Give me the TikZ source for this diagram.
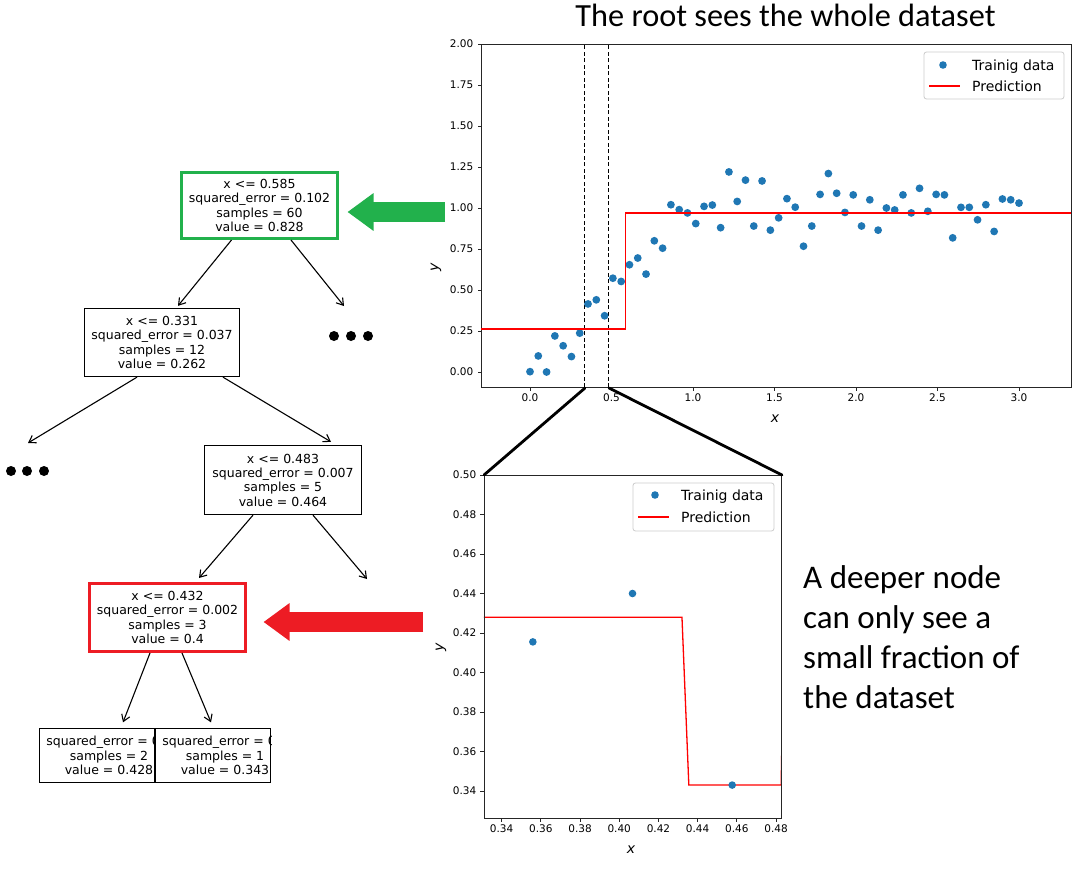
\documentclass[tikz,border=0pt]{standalone}
\usepackage{fontspec}
\setmainfont{Carlito}
\newfontfamily\dvs{DejaVu Sans}
\usetikzlibrary{arrows.meta}
\definecolor{mplblue}{HTML}{1F77B4}
\definecolor{pgreen}{HTML}{22B14C}
\definecolor{pred}{HTML}{ED1C24}
\definecolor{mplred}{HTML}{FF0000}
\tikzset{
  treebox/.style={draw=black, line width=1.3pt, inner sep=0pt, align=center,
    font=\dvs\fontsize{12.5}{14.3}\selectfont, minimum width=155pt, minimum height=68pt},
  greenbox/.style={treebox, draw=pgreen, line width=3pt, minimum width=156pt, minimum height=66pt},
  redbox/.style={treebox, draw=pred, line width=3pt, minimum width=156pt, minimum height=68pt},
  leafbox/.style={draw=black, line width=1.3pt, minimum width=115pt, minimum height=54pt, inner sep=0pt},
  leaftext/.style={inner sep=0pt, align=center, font=\dvs\fontsize{12.5}{14.3}\selectfont},
  treeedge/.style={line width=1.1pt, -{Straight Barb[length=6.5pt,width=8.5pt]}},
  bigarrow/.style={line width=20pt, -{Triangle[length=26pt,width=36pt]}},
  dotmark/.style={circle, fill=black, inner sep=0pt, minimum size=10pt},
  tickmark/.style={line width=0.8pt, black!85},
  ticklabel/.style={font=\dvs\fontsize{10.5}{12}\selectfont, inner sep=0pt},
  legtext/.style={font=\dvs\fontsize{14}{16}\selectfont, inner sep=0pt, anchor=base west},
  axlabel/.style={font=\dvs\itshape\fontsize{14}{16}\selectfont, inner sep=0pt},
  bigtext/.style={font=\fontsize{33}{40}\selectfont, inner sep=0pt, anchor=base west},
  axframe/.style={draw=black!85, line width=0.9pt},
  legbox/.style={draw=black!20, fill=white, line width=0.8pt, rounded corners=2.5pt},
  zoomline/.style={line width=2.8pt, black},
  predline/.style={mplred, line width=1.3pt},
  cutline/.style={black, line width=1.1pt, dash pattern=on 4pt off 2.5pt},
  datapt/.style={fill=mplblue}
}
\begin{document}
\begin{tikzpicture}[x=1pt,y=1pt]
\useasboundingbox[fill=white] (0,0) rectangle (1080,-870);

% ---------- titles ----------
\node[font=\fontsize{32.3}{40}\selectfont, inner sep=0pt] (title) at (785.5,-15.5) {The root sees the whole dataset};
\node[bigtext] (t1) at (803,-588) {A deeper node};
\node[bigtext] (t2) at (803,-628) {can only see a};
\node[bigtext] (t3) at (803,-668) {small fraction of};
\node[bigtext] (t4) at (803,-708) {the dataset};

% ---------- tree ----------
\node[greenbox] (root) at (259.5,-205.5) {x <= 0.585\\squared\_error = 0.102\\samples = 60\\value = 0.828};
\node[treebox] (n2) at (162,-342.5) {x <= 0.331\\squared\_error = 0.037\\samples = 12\\value = 0.262};
\node[treebox, minimum width=157pt, minimum height=69pt] (n3) at (283,-480) {x <= 0.483\\squared\_error = 0.007\\samples = 5\\value = 0.464};
\node[redbox] (n4) at (167.5,-617.5) {x <= 0.432\\squared\_error = 0.002\\samples = 3\\value = 0.4};

\node[leafbox] (leafA) at (97,-755.5) {};
\begin{scope}
  \clip (leafA.south west) rectangle (leafA.north east);
  \node[leaftext] (leafAtext) at (109,-755.5) {squared\_error = 0.0\\samples = 2\\value = 0.428};
\end{scope}
\node[leafbox] (leafB) at (213,-755.5) {};
\begin{scope}
  \clip (leafB.south west) rectangle (leafB.north east);
  \node[leaftext] (leafBtext) at (225,-755.5) {squared\_error = 0.0\\samples = 1\\value = 0.343};
\end{scope}

\coordinate (rootR) at (344,-306);
\coordinate (n2L) at (28,-443);
\coordinate (n3R) at (367,-579);
\node[dotmark] (d1) at (334,-336) {};
\node[dotmark] (d2) at (351,-336) {};
\node[dotmark] (d3) at (368,-336) {};
\node[dotmark] (e1) at (11,-471) {};
\node[dotmark] (e2) at (27,-471) {};
\node[dotmark] (e3) at (44,-471) {};

\draw[treeedge] ([xshift=-28pt]root.south) -- ([xshift=16pt,yshift=2pt]n2.north);
\draw[treeedge] ([xshift=31.5pt]root.south) -- (rootR);
\draw[treeedge] ([xshift=-25pt]n2.south) -- (n2L);
\draw[treeedge] ([xshift=61pt]n2.south) -- ([xshift=48pt,yshift=3pt]n3.north);
\draw[treeedge] ([xshift=-30pt]n3.south) -- ([xshift=31.5pt,yshift=4pt]n4.north);
\draw[treeedge] ([xshift=30pt]n3.south) -- (n3R);
\draw[treeedge] ([xshift=-17.5pt]n4.south) -- ([xshift=26pt,yshift=5.5pt]leafA.north);
\draw[treeedge] ([xshift=14.5pt]n4.south) -- ([xshift=-2pt,yshift=5.5pt]leafB.north);

% ---------- big arrows ----------
\coordinate (gtail) at (445,-212);
\coordinate (rtail) at (423,-622);
\draw[bigarrow, pgreen] (gtail) -- ([xshift=8.5pt,yshift=-6.5pt]root.east);
\draw[bigarrow, pred] (rtail) -- ([xshift=16.5pt,yshift=-4.5pt]n4.east);

% ---------- top plot ----------
\begin{scope}[x=163pt, y=164pt, shift={(530pt,-372pt)}]
  \draw[axframe] (-0.3006,-0.0915) rectangle (3.319,2.0);
  \foreach \t/\l in {0/0.0,0.5/0.5,1/1.0,1.5/1.5,2/2.0,2.5/2.5,3/3.0}{
    \draw[tickmark] (\t,-0.0915) -- ++(0,-3.5pt);
    \node[ticklabel, anchor=north, yshift=-6.5pt] at (\t,-0.0915) {\l};
  }
  \foreach \t/\l in {0/0.00,0.25/0.25,0.5/0.50,0.75/0.75,1/1.00,1.25/1.25,1.5/1.50,1.75/1.75,2/2.00}{
    \draw[tickmark] (-0.3006,\t) -- ++(-3.5pt,0);
    \node[ticklabel, anchor=east, xshift=-7.5pt] at (-0.3006,\t) {\l};
  }
  \draw[cutline] (0.3337,-0.0915) -- (0.3337,2.0);
  \draw[cutline] (0.483,-0.0915) -- (0.483,2.0);
  \foreach \yv [count=\i from 0] in {0.002,0.098,0.0,0.22,0.16,0.094,0.237,0.415,0.44,0.343,
      0.572,0.552,0.654,0.695,0.597,0.80,0.755,1.02,0.99,0.97,
      0.905,1.01,1.018,0.88,1.22,1.04,1.17,0.89,1.165,0.865,
      0.94,1.057,1.005,0.767,0.89,1.083,1.21,1.09,0.973,1.08,
      0.89,1.05,0.865,1.00,0.988,1.08,0.97,1.12,0.98,1.083,
      1.08,0.818,1.004,1.004,0.928,1.02,0.857,1.055,1.05,1.03}{
    \fill[datapt] ({\i*3/59},\yv) circle[radius=3.9pt];
  }
  \draw[predline] (-0.3006,0.262) -- (0.585,0.262) -- (0.585,0.97) -- (3.319,0.97);
\end{scope}
\node[axlabel] (xlabTop) at (775,-419) {x};
\node[axlabel, rotate=90] (ylabTop) at (436,-267) {y};
\draw[legbox] (924,-52) rectangle (1064,-99);
\fill[datapt] (943,-65) circle[radius=3.8];
\draw[predline] (929,-86) -- (960,-86);
\node[legtext] (lgTop1) at (972,-70) {Trainig data};
\node[legtext] (lgTop2) at (972,-91) {Prediction};

% ---------- bottom plot ----------
\begin{scope}[x=1960pt, y=1975pt, shift={(-164.76pt,-1462.5pt)}]
  \begin{scope}
    \clip (0.331,0.3263) rectangle (0.483,0.5);
    \draw[predline] (0.331,0.428) -- (0.432,0.428) -- (0.4355,0.343) -- (0.4826,0.343) -- (0.4829,0.36);
  \end{scope}
  \draw[axframe] (0.331,0.3263) rectangle (0.483,0.5);
  \foreach \t in {0.34,0.36,0.38,0.40,0.42,0.44,0.46,0.48}{
    \draw[tickmark] (\t,0.3263) -- ++(0,-3.5pt);
    \node[ticklabel, anchor=north, yshift=-6.5pt] at (\t,0.3263) {\t};
  }
  \foreach \t in {0.34,0.36,0.38,0.40,0.42,0.44,0.46,0.48,0.50}{
    \draw[tickmark] (0.331,\t) -- ++(-3.5pt,0);
    \node[ticklabel, anchor=east, xshift=-7.5pt] at (0.331,\t) {\t};
  }
  \fill[datapt] ({7*3/59},0.4155) circle[radius=3.8pt];
  \fill[datapt] ({8*3/59},0.44) circle[radius=3.8pt];
  \fill[datapt] ({9*3/59},0.343) circle[radius=3.8pt];
\end{scope}
\node[axlabel] (xlabBot) at (631,-850) {x};
\node[axlabel, rotate=90] (ylabBot) at (441,-647) {y};
\draw[legbox] (633,-483) rectangle (774,-531);
\fill[datapt] (655,-495) circle[radius=3.8];
\draw[predline] (638,-517) -- (669,-517);
\node[legtext] (lgBot1) at (681,-500) {Trainig data};
\node[legtext] (lgBot2) at (681,-522) {Prediction};

% ---------- zoom connectors ----------
\coordinate (za) at (585,-388);
\coordinate (zb) at (609,-388);
\coordinate (zc) at (484,-475);
\coordinate (zd) at (782,-475);
\draw[zoomline, line cap=round] (za) -- (zc);
\draw[zoomline, line cap=round] (zb) -- (zd);
\end{tikzpicture}
\end{document}
